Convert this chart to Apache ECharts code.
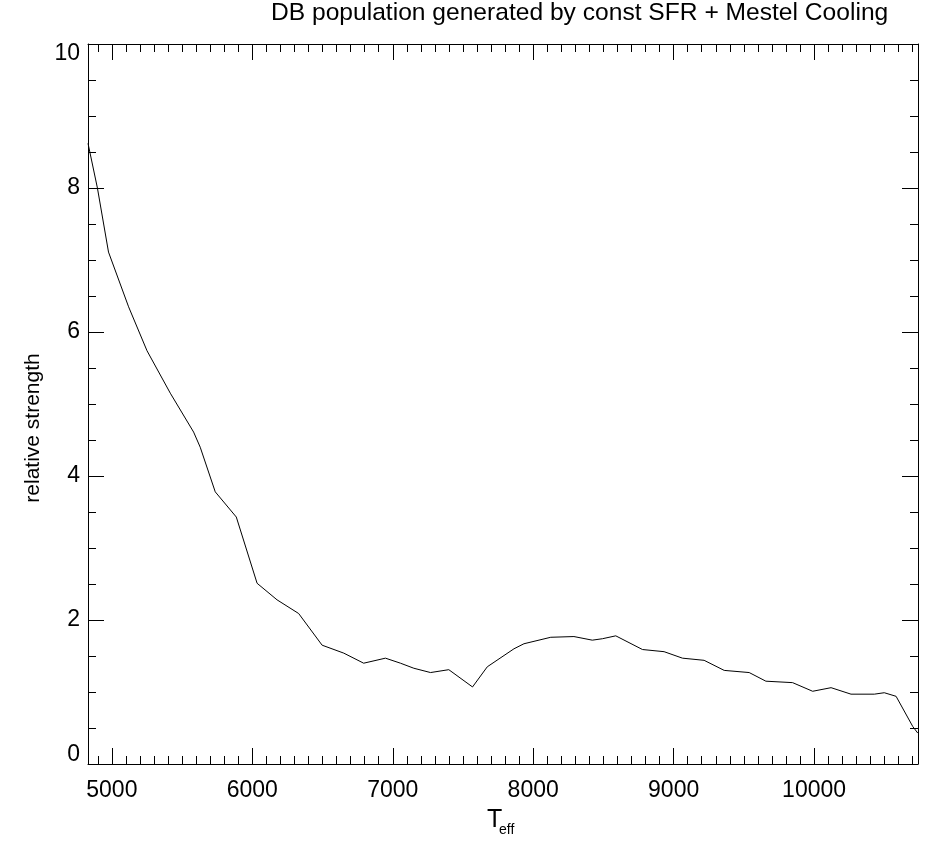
<!DOCTYPE html>
<html><head><meta charset="utf-8">
<script src="https://cdn.jsdelivr.net/npm/echarts@6/dist/echarts.min.js"></script>
<style>html,body{margin:0;padding:0;background:#fff}#c{width:926px;height:842px}</style>
</head><body><div id="c"></div>
<script>
const titleText = 'DB population generated by const SFR + Mestel Cooling';
const xName = 'T';
const xNameSub = 'eff';
const yName = 'relative strength';
const xRange = [4830, 10740];
const yRange = [0, 10];
const teff = [4830, 4897, 4976, 5119, 5250, 5416, 5582, 5629, 5736, 5886, 6034, 6176, 6330, 6497, 6651, 6793, 6948, 7055, 7150, 7269, 7399, 7568, 7673, 7863, 7934, 8125, 8290, 8421, 8493, 8588, 8778, 8932, 9063, 9217, 9360, 9538, 9657, 9847, 9990, 10121, 10263, 10429, 10500, 10584, 10703, 10738];
const strength = [8.62, 8.00, 7.11, 6.35, 5.74, 5.15, 4.61, 4.40, 3.78, 3.43, 2.51, 2.28, 2.09, 1.65, 1.54, 1.40, 1.47, 1.40, 1.33, 1.27, 1.31, 1.07, 1.35, 1.60, 1.67, 1.76, 1.77, 1.72, 1.74, 1.78, 1.59, 1.56, 1.47, 1.44, 1.30, 1.27, 1.15, 1.13, 1.01, 1.06, 0.97, 0.97, 0.99, 0.94, 0.52, 0.43];

const FF = '"Liberation Sans", Arial, Helvetica, sans-serif';
const chart = echarts.init(document.getElementById('c'), null, {renderer: 'canvas'});
const tickCommon = {show: true, inside: true, length: 16, lineStyle: {color: '#000', width: 1}};
const minorCommon = {show: true, length: 8, lineStyle: {color: '#000', width: 1}};
const lineCommon = {show: true, onZero: false, lineStyle: {color: '#000', width: 1}};
function xAx(pos, labels) {
  return {
    type: 'value', position: pos, min: xRange[0], max: xRange[1], splitNumber: 6,
    axisLine: lineCommon, axisTick: tickCommon,
    minorTick: Object.assign({splitNumber: 10}, minorCommon),
    splitLine: {show: false}, minorSplitLine: {show: false},
    axisLabel: {show: labels, showMinLabel: false, showMaxLabel: false, fontSize: 23, color: '#000', fontFamily: FF, margin: 15,
      formatter: v => String(v)}
  };
}
function yAx(pos, labels) {
  return {
    type: 'value', position: pos, min: yRange[0], max: yRange[1], interval: 2,
    name: labels ? yName : '', nameLocation: 'middle', nameRotate: 90, nameGap: 42,
    nameTextStyle: {fontSize: 21, color: '#000', fontFamily: FF, padding: [0, 48, 0, 0]},
    axisLine: lineCommon, axisTick: tickCommon,
    minorTick: Object.assign({splitNumber: 4}, minorCommon),
    splitLine: {show: false}, minorSplitLine: {show: false},
    axisLabel: {
      show: labels, fontSize: 23, color: '#000', fontFamily: FF, margin: 8,
      formatter: v => v === yRange[0] ? '{lo|' + v + '}' : (v === yRange[1] ? '{hi|' + v + '}' : '{n|' + v + '}'),
      rich: {lo: {padding: [0, 0, 18, 0]}, hi: {padding: [20, 0, 0, 0]}, n: {}}
    }
  };
}
chart.setOption({
  animation: false,
  backgroundColor: '#fff',
  title: [
    {text: titleText, left: 271, top: 1, padding: 0, textStyle: {fontSize: 24.6, fontWeight: 'normal', color: '#000', fontFamily: FF}},
    {text: xName, left: 487, top: 808, padding: 0, textStyle: {fontSize: 25, fontWeight: 'normal', color: '#000', fontFamily: FF}},
    {text: xNameSub, left: 499, top: 823, padding: 0, textStyle: {fontSize: 14, fontWeight: 'normal', color: '#000', fontFamily: FF}}
  ],
  grid: {left: 88, right: 8, top: 44, bottom: 78, containLabel: false},
  xAxis: [xAx('bottom', true), xAx('top', false)],
  yAxis: [yAx('left', true), yAx('right', false)],
  series: [{
    type: 'line', xAxisIndex: 0, yAxisIndex: 0,
    data: teff.map((t, i) => [t, strength[i]]),
    showSymbol: false, symbol: 'none', smooth: false,
    lineStyle: {color: '#000', width: 1}
  }]
});
</script></body></html>
